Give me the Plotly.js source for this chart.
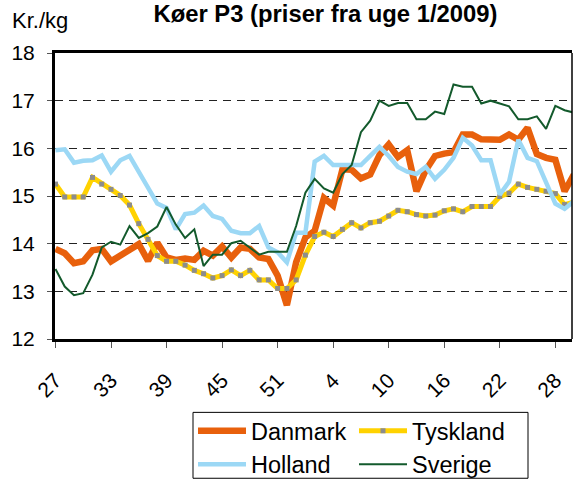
<!DOCTYPE html>
<html><head><meta charset="utf-8">
<script src="https://cdn.plot.ly/plotly-3.0.1.min.js"></script>
<style>html,body{margin:0;padding:0;background:#fff;overflow:hidden}</style>
</head><body><div id="chart" style="width:573px;height:483px"></div>
<script>
const weeks = [27,28,29,30,31,32,33,34,35,36,37,38,39,40,41,42,43,44,45,46,47,48,49,50,51,52,53,1,2,3,4,5,6,7,8,9,10,11,12,13,14,15,16,17,18,19,20,21,22,23,24,25,26,27,28,29,30];
const danmark = [13.89,13.80,13.59,13.63,13.86,13.89,13.63,13.75,13.86,13.99,13.64,14.02,13.71,13.66,13.69,13.66,13.85,13.75,13.94,13.71,13.92,13.89,13.71,13.68,13.33,12.71,13.61,14.13,14.27,14.96,14.80,15.56,15.55,15.37,15.45,15.86,16.08,15.82,15.96,15.10,15.54,15.84,15.89,15.92,16.29,16.29,16.19,16.18,16.18,16.29,16.18,16.43,15.88,15.80,15.76,15.10,15.45];
const tyskland = [15.25,14.98,14.98,14.98,15.39,15.25,15.14,15.01,14.81,14.42,14.09,13.75,13.63,13.63,13.55,13.44,13.37,13.28,13.33,13.45,13.33,13.44,13.24,13.24,13.06,13.06,13.24,13.76,14.15,14.24,14.15,14.30,14.44,14.33,14.44,14.47,14.58,14.70,14.67,14.61,14.58,14.60,14.69,14.73,14.67,14.78,14.78,14.78,14.99,15.06,15.25,15.18,15.14,15.10,15.05,14.82,14.87];
const holland = [15.96,15.98,15.70,15.74,15.75,15.85,15.51,15.75,15.84,15.51,15.14,14.84,14.75,14.30,14.62,14.65,14.80,14.58,14.52,14.27,14.22,14.22,14.37,13.92,13.82,13.61,14.23,14.23,15.72,15.84,15.65,15.65,15.65,15.65,15.84,16.03,15.84,15.61,15.51,15.46,15.61,15.36,15.55,15.80,16.22,16.06,15.75,15.75,15.03,15.30,16.18,15.80,15.73,15.27,14.84,14.73,14.89];
const sverige = [13.47,13.10,12.92,12.96,13.35,13.92,14.04,13.98,14.37,14.12,14.22,14.36,14.77,14.40,14.12,14.30,13.53,13.77,13.77,14.01,14.06,13.92,13.77,13.83,13.83,13.83,14.37,15.07,15.36,15.16,15.07,15.46,15.65,16.34,16.58,17.00,16.89,16.95,16.95,16.61,16.61,16.77,16.72,17.34,17.29,17.29,16.94,17.00,16.94,16.88,16.61,16.61,16.67,16.41,16.89,16.80,16.75];
const tickIdx = [0,6,12,18,24,30,36,42,48,54];

const xs = weeks.map((w, i) => i);
const tickText = tickIdx.map(i => String(weeks[i]));
const FONT = 'Liberation Sans, Arial, sans-serif';

const traces = [
  {x: xs, y: danmark, name: 'Danmark', mode: 'lines', legend: 'legend', line: {color: '#E8600C', width: 6.5}},
  {x: xs, y: tyskland, name: 'Tyskland', mode: 'lines+markers', legend: 'legend2', line: {color: '#FFD200', width: 5},
   marker: {symbol: 'square', color: '#8C8C8C', size: 5}},
  {x: xs, y: holland, name: 'Holland', mode: 'lines', legend: 'legend', line: {color: '#9CD8F5', width: 4.5}},
  {x: xs, y: sverige, name: 'Sverige', mode: 'lines', legend: 'legend2', line: {color: '#135A2C', width: 2}}
];

const legendBase = {orientation: 'h', xref: 'container', yref: 'container', xanchor: 'left', yanchor: 'top',
  y: 1 - 409/483, borderwidth: 0, bgcolor: 'rgba(0,0,0,0)',
  entrywidth: 260, entrywidthmode: 'pixels',
  font: {family: FONT, size: 23.5, color: '#000'}, itemwidth: 48, traceorder: 'normal'};

const layout = {
  width: 573, height: 483,
  margin: {l: 55, r: 1, t: 53, b: 143.5},
  paper_bgcolor: '#fff', plot_bgcolor: '#fff',
  font: {family: FONT, size: 21, color: '#000'},
  title: {text: '<b>Køer P3 (priser fra uge 1/2009)</b>', font: {family: FONT, size: 23.8, color: '#000'},
          xref: 'container', yref: 'container', x: 0.568, xanchor: 'center', y: 1 - 14/483, yanchor: 'middle'},
  showlegend: true,
  legend: Object.assign({}, legendBase, {x: 193/573}),
  legend2: Object.assign({}, legendBase, {x: 354/573}),
  xaxis: {range: [-0.05, 55.8], tickmode: 'array', tickvals: tickIdx, ticktext: tickText,
          tickangle: -45, ticks: 'outside', ticklen: 6, tickwidth: 1, tickcolor: '#555',
          showline: true, linecolor: '#000', linewidth: 3, mirror: true,
          showgrid: false, zeroline: false, ticklabelstandoff: 12, automargin: false,
          tickfont: {family: FONT, size: 21, color: '#000'}},
  xaxis2: {overlaying: 'x', matches: 'x', anchor: 'y', side: 'bottom', range: [-0.05, 55.8],
           tickmode: 'array', tickvals: tickIdx, ticks: 'inside', ticklen: 6, tickwidth: 1, tickcolor: '#555',
           showticklabels: false, showline: false, showgrid: false, zeroline: false},
  yaxis: {range: [12, 18], tickmode: 'array', tickvals: [12,13,14,15,16,17,18],
          ticks: 'outside', ticklen: 5, tickwidth: 1, tickcolor: '#555',
          showline: true, linecolor: '#000', linewidth: 3, mirror: false, automargin: false,
          showgrid: true, gridcolor: '#222', gridwidth: 1, griddash: '8px,6px', zeroline: false,
          ticklabelstandoff: 8, tickfont: {family: FONT, size: 21, color: '#000'}},
  shapes: [
    {type: 'line', xref: 'paper', yref: 'paper', x0: 1, x1: 1, y0: 0, y1: 1, line: {color: '#000', width: 1.5}},
    {type: 'rect', xref: 'paper', yref: 'paper', layer: 'below',
     x0: (193 - 55) / 517, x1: (528 - 55) / 517, y0: (339.5 - 479) / 286.5, y1: (339.5 - 413) / 286.5,
     line: {color: '#000', width: 1}, fillcolor: 'rgba(0,0,0,0)'}
  ],
  annotations: [
    {text: 'Kr./kg', xref: 'paper', yref: 'paper', x: (10 - 55) / 517, xanchor: 'left',
     y: 1 + (53 - 20) / 286.5, yanchor: 'middle', showarrow: false,
     font: {family: FONT, size: 22, color: '#000'}}
  ]
};

Plotly.newPlot('chart', traces, layout, {displayModeBar: false, staticPlot: true});
</script>
</body></html>
